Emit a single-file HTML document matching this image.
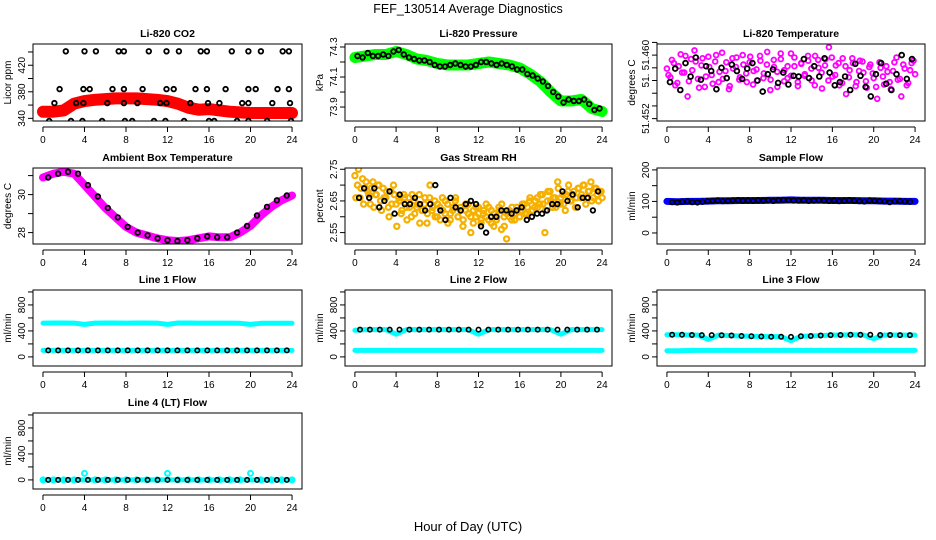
<!DOCTYPE html>
<html><head><meta charset="utf-8">
<style>
html,body{margin:0;padding:0;background:#fff;}
svg{display:block;font-family:"Liberation Sans",sans-serif;}
</style></head>
<body>
<svg id="chart" width="936" height="540" viewBox="0 0 936 540">
<rect x="0" y="0" width="936" height="540" fill="#fff"/>
<text x="468" y="13" text-anchor="middle" font-size="12.5">FEF_130514  Average Diagnostics</text>
<text x="468" y="531" text-anchor="middle" font-size="13">Hour of Day (UTC)</text>
</svg>
<script>
// ---- data ----
const xTicks = [0,4,8,12,16,20,24];
// CO2
const co2Band = [350,350,352,362,366,368,369,370,370,370,369,368,366,362,356,353,354,352,350,349,348,348,348,348,348];
const co2BlackH = [2.2,4.0,5.1,7.3,7.8,10.2,11.9,13.1,15.2,15.8,18.2,19.8,21.0,23.1,23.7, 1.6,3.9,4.5,6.7,7.8,9.6,11.9,12.6,14.7,15.8,17.6,19.8,20.5,22.6,23.7, 1.1,3.2,3.9,6.2,7.8,9.1,11.3,11.9,14.2,15.9,17.0,19.2,19.8,22.1,23.8, 0.6,2.7,3.8,5.7,7.9,8.6,10.7,11.8,13.6,16.0,16.5,18.7,19.8,21.6,23.9];
const co2BlackV = [441,441,441,441,441,441,441,441,441,441,441,441,441,441,441, 384,384,384,384,384,384,384,384,384,384,384,384,384,384,384, 363,363,363,363,363,363,363,363,363,363,363,363,363,363,363, 336,336,336,336,336,336,336,336,336,336,336,336,336,336,336];
// Pressure
const presBand = [74.23,74.24,74.25,74.25,74.27,74.25,74.22,74.21,74.19,74.18,74.18,74.18,74.19,74.20,74.19,74.18,74.16,74.12,74.07,74.00,73.94,73.94,73.95,73.89,73.87];
const presBlack = [74.24,74.23,74.26,74.24,74.24,74.25,74.24,74.27,74.28,74.25,74.23,74.22,74.21,74.21,74.20,74.18,74.17,74.17,74.18,74.19,74.18,74.17,74.17,74.18,74.20,74.20,74.19,74.18,74.19,74.18,74.17,74.15,74.15,74.12,74.11,74.09,74.07,74.04,74.00,73.97,73.93,73.95,73.94,73.94,73.95,73.92,73.88,73.89];
// Li-820 temperature
const tempMagA = [51.4583,51.4572,51.4590,51.4565,51.4601,51.4578,51.4548,51.4595,51.4606,51.4570,51.4587,51.4560,51.4598,51.4575,51.4592,51.4566,51.4603,51.4580,51.4557,51.4596,51.4585,51.4569,51.4600,51.4577,51.4591,51.4563,51.4582,51.4599,51.4571,51.4588,51.4556,51.4594,51.4579,51.4602,51.4567,51.4586,51.4574,51.4597,51.4561,51.4589,51.4576,51.4593,51.4568,51.4599,51.4584,51.4558,51.4595,51.4610,51.4573,51.4587,51.4562,51.4596,51.4551,51.4581,51.4590,51.4566,51.4593,51.4578,51.4559,51.4588,51.4571,51.4545,51.4584,51.4563,51.4579,51.4557,51.4591,51.4569,51.4548,51.4583,51.4565,51.4590,51.4576];
const tempMagB = [51.4575,51.4594,51.4562,51.4586,51.4578,51.4599,51.4567,51.4581,51.4592,51.4559,51.4596,51.4573,51.4585,51.4564,51.4600,51.4579,51.4570,51.4591,51.4561,51.4583,51.4597,51.4572,51.4588,51.4566,51.4598,51.4580,51.4568,51.4593,51.4577,51.4604,51.4569,51.4585,51.4560,51.4595,51.4581,51.4571,51.4602,51.4586,51.4566,51.4590,51.4574,51.4599,51.4583,51.4562,51.4594,51.4578,51.4587,51.4568,51.4597,51.4575,51.4590,51.4565,51.4586,51.4572,51.4596,51.4561,51.4580,51.4592,51.4567,51.4585,51.4577,51.4560,51.4591,51.4573,51.4586,51.4566,51.4580,51.4597,51.4570,51.4588,51.4562,51.4581,51.4593];
const tempBlack = [51.4566,51.4583,51.4556,51.4590,51.4573,51.4597,51.4569,51.4586,51.4580,51.4557,51.4584,51.4571,51.4588,51.4580,51.4570,51.4583,51.4590,51.4568,51.4554,51.4576,51.4582,51.4565,51.4578,51.4563,51.4574,51.4573,51.4595,51.4571,51.4586,51.4573,51.4596,51.4578,51.4562,51.4566,51.4573,51.4556,51.4589,51.4574,51.4560,51.4548,51.4576,51.4590,51.4564,51.4556,51.4576,51.4600,51.4570,51.4595];
// Ambient box temperature
const ambBand = [30.9,31.1,31.2,31.1,30.5,29.9,29.3,28.8,28.3,28.0,27.85,27.7,27.6,27.55,27.6,27.7,27.8,27.75,27.75,28.0,28.35,28.9,29.35,29.7,29.95];
// Gas stream RH
const rhOrA = [2.73,2.70,2.66,2.72,2.69,2.68,2.64,2.71,2.67,2.70,2.65,2.69,2.66,2.63,2.68,2.70,2.64,2.66,2.61,2.67,2.63,2.66,2.60,2.65,2.63,2.67,2.62,2.64,2.58,2.66,2.62,2.65,2.60,2.63,2.66,2.61,2.64,2.59,2.62,2.65,2.60,2.63,2.57,2.62,2.64,2.60,2.58,2.63,2.61,2.59,2.62,2.60,2.63,2.58,2.61,2.59,2.62,2.64,2.57,2.61,2.60,2.63,2.59,2.62,2.60,2.64,2.61,2.63,2.66,2.62,2.65,2.63,2.67,2.64,2.62,2.68,2.65,2.66,2.63,2.69,2.66,2.64,2.67,2.70,2.65,2.68,2.66,2.69,2.67,2.70,2.66,2.68,2.65,2.69,2.67,2.68,2.66];
const rhOrB = [2.66,2.75,2.69,2.64,2.71,2.67,2.69,2.63,2.67,2.70,2.62,2.66,2.68,2.60,2.64,2.67,2.57,2.65,2.62,2.66,2.59,2.63,2.67,2.61,2.64,2.58,2.62,2.66,2.61,2.70,2.63,2.60,2.64,2.59,2.62,2.65,2.58,2.61,2.63,2.66,2.60,2.62,2.59,2.64,2.61,2.55,2.62,2.60,2.63,2.58,2.61,2.64,2.59,2.62,2.57,2.60,2.63,2.56,2.60,2.53,2.62,2.59,2.61,2.63,2.60,2.62,2.64,2.61,2.65,2.62,2.63,2.66,2.64,2.67,2.55,2.65,2.68,2.63,2.66,2.71,2.64,2.67,2.62,2.68,2.65,2.67,2.63,2.69,2.66,2.70,2.64,2.68,2.71,2.66,2.69,2.65,2.68];
const rhBlack = [2.66,2.69,2.66,2.69,2.63,2.65,2.68,2.61,2.67,2.64,2.64,2.66,2.64,2.62,2.64,2.70,2.62,2.59,2.66,2.63,2.62,2.64,2.65,2.64,2.57,2.55,2.60,2.60,2.62,2.62,2.61,2.62,2.63,2.59,2.60,2.61,2.61,2.62,2.64,2.64,2.68,2.65,2.67,2.63,2.66,2.66,2.62,2.68];
// Sample flow
const sampleBand = [100,99,100,100,101,102,102,103,103,103,104,104,105,104,104,104,103,103,103,102,102,101,101,100,100];
const sampleBlack = [98,97,99,100,98,97,99,101,102,103,101,102,103,104,102,103,102,104,103,104,102,104,105,104,103,103,104,102,103,104,103,102,103,101,102,104,102,101,100,103,102,101,100,98,100,101,100,99];
// Line flows (hourly)
const line1Cyan = [520,522,522,521,500,521,522,522,521,522,522,521,500,522,522,521,521,521,520,518,500,518,519,519,519];
const line1Low = [100,100,100,100,100,100,100,100,100,100,100,100,100,100,100,100,100,100,100,100,100,100,100,100,100];
const line1Black = [100,100,100,100,100,100,100,100,100,100,100,100,100,100,100,100,100,100,100,100,100,100,100,100,100];
const line2Cyan = [410,420,420,420,350,420,420,420,420,420,420,420,350,420,420,420,420,420,420,420,350,420,420,420,420];
const line2Low = [100,100,100,100,100,100,100,100,100,100,100,100,100,100,100,100,100,100,100,100,100,100,100,100,100];
const line2Black = [420,420,420,420,420,420,420,420,420,420,420,420,420,420,420,420,420,420,420,420,420,420,420,420,420];
const line3Cyan = [340,340,338,336,270,335,330,322,318,314,312,312,250,318,322,330,335,338,340,338,280,338,337,336,335];
const line3Low = [95,95,98,100,100,100,100,100,100,100,100,100,100,100,100,100,100,100,100,100,100,100,100,100,100];
const line3Black = [340,340,338,336,335,333,330,322,318,314,310,310,308,318,322,330,335,338,340,340,340,338,337,336,335];
const line4Cyan = [0,0,0,0,100,0,0,0,0,0,0,0,100,0,0,0,0,0,0,0,100,0,0,0,0];
const line4Black = [0,0,0,0,0,0,0,0,0,0,0,0,0,0,0,0,0,0,0,0,0,0,0,0,0];

// ---- layout ----
const NS = "http://www.w3.org/2000/svg";
const svg = document.getElementById('chart');
const colX = [[33,302],[345,612],[657,925]];
const rowY = [[44,121],[168,244],[290,366],[413,489]];
function mk(tag, attrs, parent){ const e=document.createElementNS(NS,tag); for(const k in attrs) e.setAttribute(k,attrs[k]); (parent||svg).appendChild(e); return e; }

function makePanel(name, col, row, title, ylab, ymin, ymax, yTicks, yLabels){
  const [x0,x1]=colX[col], [y0,y1]=rowY[row];
  const g = mk('g',{});
  
  
  const sx = h => x0 + (h+0.96)/25.92*(x1-x0);
  const sy = v => y1 - (v-ymin)/(ymax-ymin)*(y1-y0);
  const clip = mk('clipPath',{id:'clip-'+name},g);
  mk('rect',{x:x0,y:y0,width:x1-x0,height:y1-y0},clip);
  const plot = mk('g',{'clip-path':'url(#clip-'+name+')'},g);
  
  
  const box = mk('rect',{x:x0,y:y0,width:x1-x0,height:y1-y0,fill:'none',stroke:'#000','stroke-width':1},g);
  
  
  const t = mk('text',{x:(x0+x1)/2,y:y0-7,'text-anchor':'middle','font-size':10.5,'font-weight':'bold'},g);
  t.textContent=title;
  
  
  const xa = mk('g',{},g);
  
  
  mk('line',{x1:sx(xTicks[0]),x2:sx(xTicks[xTicks.length-1]),y1:y1+6,y2:y1+6,stroke:'#000'},xa);
  xTicks.forEach(h=>{
    mk('line',{x1:sx(h),x2:sx(h),y1:y1+6,y2:y1+11,stroke:'#000'},xa);
    const l=mk('text',{x:sx(h),y:y1+22,'text-anchor':'middle','font-size':10},xa);
    l.textContent=h;
    
    
  });
  const ya = mk('g',{},g);
  
  
  mk('line',{x1:x0,x2:x0,y1:sy(yTicks[0]),y2:sy(yTicks[yTicks.length-1]),stroke:'#000'},ya);
  yTicks.forEach((v,i)=>{
    mk('line',{x1:x0-5,x2:x0,y1:sy(v),y2:sy(v),stroke:'#000'},ya);
    if(yLabels[i]){
      const yy=sy(v), xx=x0-8;
      const l=mk('text',{x:xx,y:yy,'text-anchor':'middle','font-size':10,transform:`rotate(-90 ${xx} ${yy})`},ya);
      l.textContent=yLabels[i];
      
      
    }
  });
  const yl = mk('text',{x:x0-22,y:(y0+y1)/2,'text-anchor':'middle','font-size':10,transform:`rotate(-90 ${x0-22} ${(y0+y1)/2})`},g);
  yl.textContent=ylab;
  
  
  return {plot,sx,sy};
}
function band(p, name, vals, color, w){
  const n=vals.length;
  const pts = vals.map((v,i)=>p.sx(i*24/(n-1)).toFixed(1)+','+p.sy(v).toFixed(1)).join(' ');
  const pl = mk('polyline',{points:pts,fill:'none',stroke:color,'stroke-width':w,'stroke-linecap':'round','stroke-linejoin':'round'},p.plot);
  
  
}
function pts(p, name, vals, color, r, sw, off, hs){
  const n=vals.length;
  const g=mk('g',{},p.plot);
  
  
  vals.forEach((v,i)=>{
    const h = hs ? hs[i] : (off + i*(24-2*off)/(n-1));
    const c=mk('circle',{cx:p.sx(h).toFixed(1),cy:p.sy(v).toFixed(1),r:r,fill:'none',stroke:color,'stroke-width':sw},g);
    
    
  });
}

let p = makePanel('co2',0,0,'Li-820 CO2','Licor ppm',336.0,452,[340,360,380,400,420,440],['340','','380','','420','']);
band(p,'co2-band',co2Band,'#f00',12);
pts(p,'co2-black',co2BlackV,'#000',2.3,1.8,0,co2BlackH);
p = makePanel('pressure',1,0,'Li-820 Pressure','kPa',73.807,74.32,[73.9,74.0,74.1,74.2,74.3],['73.9','','74.1','','74.3']);
band(p,'pressure-band',presBand,'#0f0',11);
pts(p,'pressure-black',presBlack,'#000',2.3,1.8,0.25);
p = makePanel('li820-temp',2,0,'Li-820 Temperature','degrees C',51.4517,51.4614,[51.452,51.4536,51.4552,51.4568,51.4584,51.46,51.4616],['51.452','','','51.','','51.460','']);
pts(p,'temp-magenta-a',tempMagA,'#f0f',2.4,1.8,0.0);
pts(p,'temp-magenta-b',tempMagB,'#f0f',2.4,1.8,0.15);
pts(p,'temp-black',tempBlack,'#000',2.4,1.8,0.3);
p = makePanel('ambient-temp',0,1,'Ambient Box Temperature','degrees C',27.4,31.4,[28,29,30,31],['28','','30','']);
band(p,'ambient-band',ambBand,'#f0f',8);
pts(p,'ambient-black',ambBand,'#000',2.3,1.8,0.5);
p = makePanel('gas-rh',1,1,'Gas Stream RH','percent',2.514,2.754,[2.55,2.6,2.65,2.7,2.75],['2.55','','2.65','','2.75']);
pts(p,'rh-orange-a',rhOrA,'#f5b000',2.6,2.2,0);
pts(p,'rh-orange-b',rhOrB,'#f5b000',2.6,2.2,0.1);
pts(p,'rh-black',rhBlack,'#000',2.3,1.8,0.4);
p = makePanel('sample-flow',2,1,'Sample Flow','ml/min',-35,206,[0,50,100,150,200],['0','','100','','200']);
band(p,'sample-band',sampleBand,'#00f',7);
pts(p,'sample-black',sampleBlack,'#000',2.3,1.8,0.5);
const fT=[0,200,400,600,800,1000], fL=['0','','400','','800',''];
p = makePanel('line1',0,2,'Line 1 Flow','ml/min',-140,1030,fT,fL);
band(p,'line1-cyan',line1Cyan,'#0ff',5);
band(p,'line1-cyan-low',line1Low,'#0ff',5);
pts(p,'line1-black',line1Black,'#000',2.2,1.6,0.5);
p = makePanel('line2',1,2,'Line 2 Flow','ml/min',-140,1030,fT,fL);
band(p,'line2-cyan',line2Cyan,'#0ff',5);
band(p,'line2-cyan-low',line2Low,'#0ff',5);
pts(p,'line2-black',line2Black,'#000',2.2,1.6,0.5);
p = makePanel('line3',2,2,'Line 3 Flow','ml/min',-140,1030,fT,fL);
band(p,'line3-cyan',line3Cyan,'#0ff',5);
band(p,'line3-cyan-low',line3Low,'#0ff',5);
pts(p,'line3-black',line3Black,'#000',2.2,1.6,0.5);
p = makePanel('line4',0,3,'Line 4 (LT) Flow','ml/min',-140,1030,fT,fL);
band(p,'line4-cyan',line4Black,'#0ff',5);
pts(p,'line4-cyan-points',line4Cyan,'#0ff',2.5,2,0);
pts(p,'line4-black',line4Black,'#000',2.2,1.6,0.5);
</script>
</body></html>
